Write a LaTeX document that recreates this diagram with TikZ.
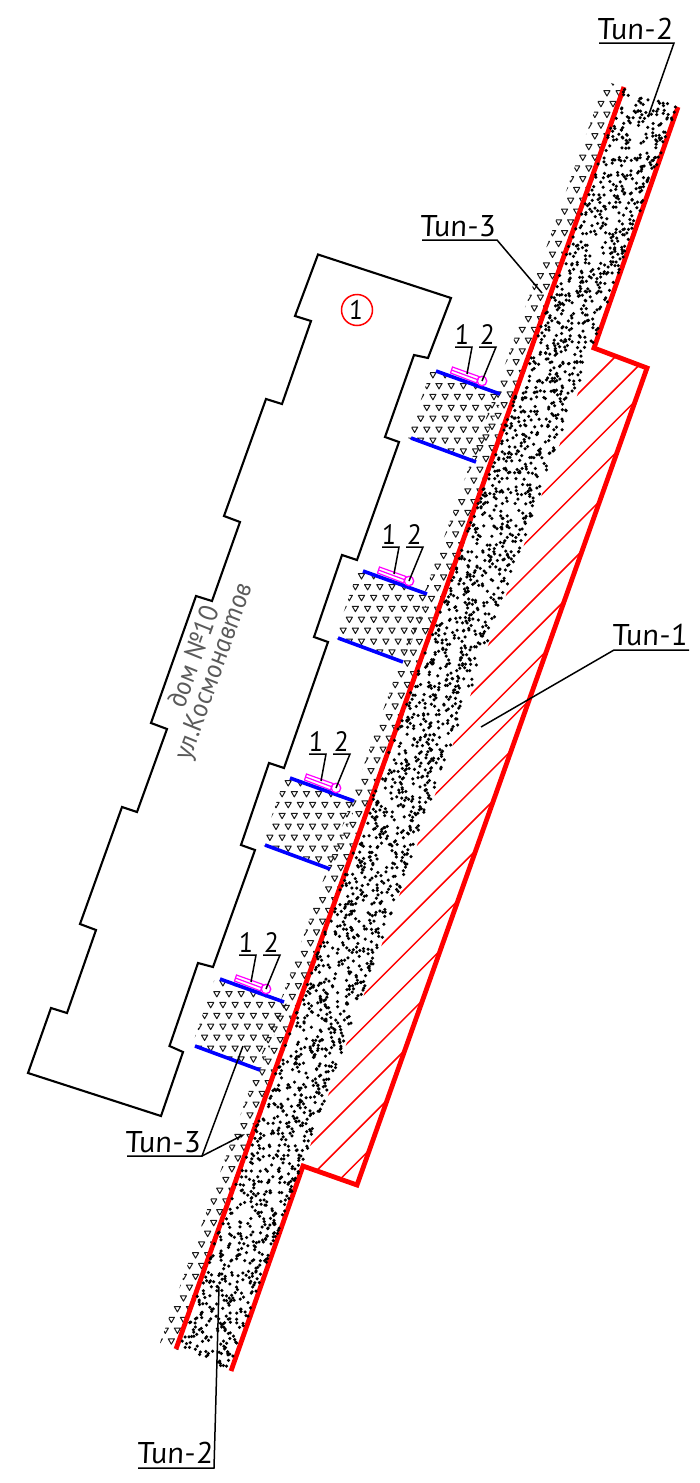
\documentclass[tikz,border=0pt]{standalone}
\usepackage{fontspec}
\setmainfont{PT Sans}[ItalicFeatures={FakeSlant=-0.17}]
\usetikzlibrary{arrows.meta}
\definecolor{roadred}{RGB}{255,0,0}
\definecolor{curbblue}{RGB}{0,0,255}
\definecolor{signpink}{RGB}{255,0,255}
\definecolor{housetext}{RGB}{90,90,90}
\tikzset{
 wall/.style={draw=black,line width=2.1pt,line join=miter},
 redthick/.style={draw=roadred,line width=4.8pt,line join=miter,line cap=butt},
 redthin/.style={draw=roadred,line width=1.5pt},
 curb/.style={draw=curbblue,line width=3.6pt},
 sign/.style={draw=signpink,line width=1.2pt},
 leader/.style={draw=black,line width=1.5pt},
 tag/.style={font=\itshape\fontsize{30}{30}\selectfont,inner sep=0pt,anchor=base},
 num/.style={font=\itshape\fontsize{28}{28}\selectfont,inner sep=0pt,anchor=base},
 housetag/.style={font=\itshape\fontsize{27}{27}\selectfont,text=housetext,inner sep=0pt,rotate=70.4},
 tri/.style={draw=black!90,line width=1.0pt,line join=round}
}
\newcommand{\trimark}[2]{\draw[tri] (#1-3.1,#2-2.6) -- (#1+3.1,#2-2.6) -- (#1,#2+2.8) -- cycle;}
\newcommand{\widetag}[1]{\scalebox{1.09}[1]{#1}}
\begin{document}
\begin{tikzpicture}[x=1pt,y=-1pt]
\useasboundingbox (0,0) rectangle (699,1483);
% triangles of the verge
\begin{scope}
 \clip (605,81) -- (626,88) -- (178,1350) -- (160,1343) -- cycle;
 \foreach \j in {-2,...,116}{
  \pgfmathsetmacro\ry{104+10.76*\j}
  \pgfmathsetmacro\ro{613+6.05*Mod(\j,2)}
  \pgfmathsetmacro\xc{624-0.355*(\ry-87)-10}
  \pgfmathtruncatemacro\ic{round((\xc-\ro)/12.1)}
  \foreach \d in {-2,...,2}{
   \pgfmathsetmacro\rx{\ro+12.1*(\ic+\d)}
   \trimark{\rx}{\ry}
  }
 }
\end{scope}
% the four yards
\foreach \b/\ox/\oy/\ax/\ay in {1/0/0/420.7/397,2/-73/200/422.3/398,3/-146/407/422/398,4/-216/608/426.7/397}{
 \begin{scope}[shift={(\ox,\oy)}]
  \begin{scope}
   \clip (431,370) -- (503,396) -- (476,463) -- (408,438) -- cycle;
   \foreach \j in {-3,...,7}{
    \pgfmathsetmacro\ry{\ay+10.9*\j}
    \pgfmathsetmacro\ro{\ax+6.1*Mod(\j,2)}
    \foreach \d in {-3,...,7}{
     \pgfmathsetmacro\rx{\ro+12.2*\d}
     \trimark{\rx}{\ry}
    }
   }
  \end{scope}
  \draw[sign] (452.5,367) -- (479,376.5) -- (476.5,383) -- (450.5,373) -- cycle;
  \draw[sign] (451.5,370) -- (477.7,379.7);
  \coordinate (ct\b a) at (436,371);
  \coordinate (ct\b b) at (500,394);
  \coordinate (cb\b a) at (411,438);
  \coordinate (cb\b b) at (476,462);
  \draw[curb] (ct\b a) -- (ct\b b);
  \draw[curb] (cb\b a) -- (cb\b b);
  \node[draw=signpink,line width=1.3pt,circle,minimum size=9.5pt,inner sep=0pt] (mark\b) at (482,381) {};
  \node[num] (one\b) at (463,344) {1};
  \node[num] (two\b) at (488,344) {2};
  \coordinate (ua\b) at (455,347);
  \coordinate (ub\b) at (472,347);
  \coordinate (ue\b) at (467,374);
  \coordinate (va\b) at (479,347);
  \coordinate (vb\b) at (496,347);
  \draw[leader] (ua\b) -- (ub\b) -- (ue\b);
  \draw[leader] (va\b) -- (vb\b) -- (mark\b.center);
 \end{scope}
}
% hatching of type 1
\begin{scope}
 \clip (594,348) -- (647,368) -- (357,1185) -- (303,1166) -- cycle;
 \foreach \k in {0,...,17}{
  \pgfmathsetmacro\c{972+32.2*\k}
  \draw[redthin] (\c-1300,1300) -- (\c-200,200);
 }
\end{scope}
% red edges
\coordinate (la) at (624,87);
\coordinate (lb) at (176,1349);
\draw[redthick] (la) -- (lb);
\coordinate (r1) at (678,107);
\coordinate (r2) at (594,348);
\coordinate (r3) at (647,368);
\coordinate (r4) at (357,1185);
\coordinate (r5) at (303,1166);
\coordinate (r6) at (231,1371);
\draw[redthick] (r1) -- (r2) -- (r3) -- (r4) -- (r5) -- (r6);
% gravel dots
\pgfmathsetseed{4711}
\foreach \k in {1,...,2500}{
 \pgfmathsetmacro\pa{0.015+0.975*rnd}
 \pgfmathsetmacro\pb{(\k-rnd)/2500}
 \pgfmathsetmacro\px{624+54*\pa-448*\pb}
 \pgfmathsetmacro\py{87+20*\pa+1262*\pb}
 \fill[black] (\px,\py) circle (1.75pt);
}
% building
\draw[wall] (318,254.5) -- (451,298) -- (428,358) -- (414,355) -- (385,437) -- (399,442)
 -- (357,560) -- (342,555) -- (314,637) -- (328,642) -- (284,768) -- (269,763) -- (241,845) -- (255,850)
 -- (213,967) -- (198,963) -- (169.5,1046) -- (183,1052) -- (161,1116) -- (28,1073)
 -- (51,1008) -- (67,1013) -- (96,930) -- (80,924) -- (122,807) -- (137,812) -- (167,729) -- (151,723)
 -- (196,596) -- (212,601) -- (240,522) -- (224,516) -- (266,399) -- (282,404) -- (311,321) -- (295,316) -- cycle;
\node[circle,draw=roadred,line width=1.5pt,minimum size=31pt,inner sep=0pt,font=\itshape\fontsize{27}{27}\selectfont] (no1) at (357,310) {1};
\node[housetag] (house1) at (193,656) {дом №10};
\node[housetag] (house2) at (215,671) {ул.Космонавтов};
% labels
\node[tag] (t2top) at (636,39) {\widetag{Тип-2}};
\coordinate (t2a) at (599,43); \coordinate (t2b) at (674,43); \coordinate (t2e) at (648,117);
\draw[leader] (t2a) -- (t2b) -- (t2e);
\node[tag] (t3top) at (459,236) {\widetag{Тип-3}};
\coordinate (t3a) at (422,240); \coordinate (t3b) at (497,240); \coordinate (t3e) at (542,293);
\draw[leader] (t3a) -- (t3b) -- (t3e);
\node[tag] (t1) at (651,645) {\widetag{Тип-1}};
\coordinate (t1a) at (689,650); \coordinate (t1b) at (614,650); \coordinate (t1e) at (481,727);
\draw[leader] (t1a) -- (t1b) -- (t1e);
\node[tag] (t3low) at (164,1152) {\widetag{Тип-3}};
\coordinate (t4a) at (127,1156); \coordinate (t4b) at (202,1156); \coordinate (t4e) at (245,1134); \coordinate (t4f) at (243,1046);
\draw[leader] (t4a) -- (t4b) -- (t4f);
\draw[leader,-{Stealth[length=6pt,width=3.5pt]}] (t4b) -- (t4e);
\node[tag] (t2low) at (176,1463) {\widetag{Тип-2}};
\coordinate (t5a) at (138,1468); \coordinate (t5b) at (214,1468); \coordinate (t5e) at (219,1287);
\draw[leader] (t5a) -- (t5b) -- (t5e);
\end{tikzpicture}
\end{document}
